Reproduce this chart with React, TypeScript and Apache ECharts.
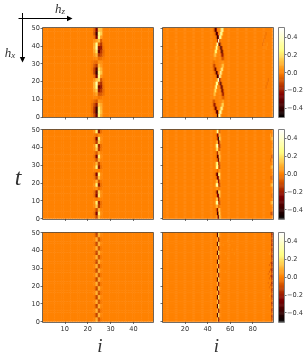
import React, { useEffect, useRef } from "react";
import * as echarts from "echarts";

const LEFT_COLS = 48;
const RIGHT_COLS = 97;
const LEFT_X_TICKS = [10, 20, 30, 40];
const RIGHT_X_TICKS = [20, 40, 60, 80];
const CB_TICKS = [-0.4, -0.2, 0, 0.2, 0.4];
const VALUE_MIN = -0.5;
const VALUE_MAX = 0.5;
const BACKGROUND = 0.004;

// rows are listed from the top of each panel (t = 48) down to t = 0
const TL_FIRST_COL = 22;
const TL_ROWS = [
  [0, -0.06, -0.26, 0.14, 0.12, 0.01],
  [0, -0.08, -0.36, 0.26, 0.16, 0.01],
  [0, -0.03, -0.24, 0.26, 0.06, 0],
  [0, 0.03, 0.06, 0.12, -0.06, 0],
  [0, 0.08, 0.28, -0.06, -0.14, -0.01],
  [0, 0.1, 0.32, -0.22, -0.2, -0.02],
  [0, 0.07, 0.2, -0.3, -0.14, -0.04],
  [0, 0.04, 0.1, -0.14, -0.1, -0.03],
  [0, 0.01, 0.03, -0.04, -0.03, -0.01],
  [-0.01, -0.03, -0.04, 0.04, 0.03, 0],
  [-0.01, -0.07, -0.14, 0.12, 0.05, 0],
  [-0.02, -0.12, -0.32, 0.2, 0.1, 0.01],
  [-0.01, -0.12, -0.38, 0.28, 0.14, 0.01],
  [0, -0.04, -0.24, 0.28, 0.05, 0],
  [0, 0.04, 0.12, 0.18, -0.08, -0.01],
  [0.01, 0.1, 0.32, -0.1, -0.16, -0.02],
  [0.01, 0.1, 0.26, -0.28, -0.2, -0.03],
  [0.01, 0.07, 0.15, -0.2, -0.14, -0.04],
  [0, 0.03, 0.07, -0.08, -0.07, -0.03],
  [0, 0.01, 0.01, -0.02, -0.01, 0],
  [-0.01, -0.04, -0.08, 0.05, 0.03, 0],
  [-0.03, -0.1, -0.2, 0.14, 0.08, 0.01],
  [-0.03, -0.14, -0.36, 0.22, 0.1, 0.01],
  [-0.03, -0.15, -0.38, 0.28, 0.12, 0.01],
  [-0.02, -0.1, -0.28, 0.24, 0.08, 0.01],
];

const TR_FIRST_COL = 45;
const TR_ROWS = [
  [0, -0.06, -0.36, -0.22, 0, 0.01, 0.01, 0.14, 0.36, 0.18, 0],
  [0, 0, -0.07, -0.36, -0.26, 0, 0.07, 0.32, 0.22, 0.03, 0],
  [0, 0, 0, -0.07, -0.4, -0.22, 0.36, 0.22, 0.03, 0, 0],
  [0, 0, 0, 0, -0.16, 0.42, -0.08, 0, 0, 0, 0],
  [0, 0, 0, 0.14, 0.36, -0.08, -0.36, -0.07, 0, 0, 0],
  [0, 0, 0.07, 0.3, 0.14, 0, -0.07, -0.36, -0.14, 0, 0],
  [0, 0.03, 0.22, 0.22, 0.03, 0, 0, -0.14, -0.36, -0.07, 0],
  [0.01, 0.08, 0.14, 0.05, 0.01, 0, 0, -0.03, -0.22, -0.14, -0.01],
  [0.01, 0.04, 0.04, 0.01, 0, 0, 0, 0, -0.07, -0.08, -0.02],
  [-0.01, -0.03, 0, 0, 0, 0, 0, 0, 0.03, 0.04, 0.01],
  [-0.03, -0.14, -0.05, 0, 0, 0, 0, 0.01, 0.1, 0.14, 0.02],
  [-0.01, -0.08, -0.3, -0.1, 0, 0, 0.01, 0.1, 0.3, 0.07, 0],
  [0, -0.01, -0.08, -0.36, -0.18, 0, 0.08, 0.34, 0.08, 0.01, 0],
  [0, 0, 0, -0.07, -0.38, -0.18, 0.36, 0.14, 0, 0, 0],
  [0, 0, 0, 0.03, 0.14, 0.38, -0.22, -0.03, 0, 0, 0],
  [0, 0, 0.03, 0.28, 0.28, -0.03, -0.14, -0.34, -0.03, 0, 0],
  [0, 0.01, 0.16, 0.32, 0.03, 0, -0.02, -0.18, -0.32, -0.03, 0],
  [0, 0.07, 0.22, 0.08, 0.01, 0, 0, -0.03, -0.3, -0.14, -0.01],
  [0.01, 0.12, 0.1, 0.01, 0, 0, 0, 0, -0.1, -0.22, -0.03],
  [0.01, 0.05, 0.02, 0, 0, 0, 0, 0, -0.02, -0.07, -0.03],
  [-0.05, -0.1, -0.01, 0, 0, 0, 0, 0, 0.04, 0.08, 0.01],
  [-0.03, -0.22, -0.14, -0.01, 0, 0, 0, 0.02, 0.14, 0.18, 0.01],
  [0, -0.05, -0.3, -0.18, -0.01, 0, 0.01, 0.18, 0.3, 0.05, 0],
  [0, 0, -0.03, -0.28, -0.34, 0, 0.22, 0.34, 0.05, 0, 0],
  [0, 0, 0, -0.03, -0.38, 0.14, 0.42, 0.07, 0, 0, 0],
];
// [column, row from bottom, value]
const TR_FAINT = [
  [92, 23, -0.03], [91, 22, -0.03], [90, 21, -0.03], [93, 20, 0.03], [92, 19, 0.03], [89, 20, -0.03],
  [94, 10, -0.03], [93, 9, -0.03], [92, 8, -0.03], [12, 20, 0.02], [13, 18, 0.02], [14, 16, 0.02],
];

const ML_FIRST_COL = 23;
const ML_ROWS = [
  [0.03, 0.22, -0.2, -0.03],
  [-0.01, -0.04, 0.03, 0.01],
  [-0.03, -0.25, 0.22, 0.03],
  [-0.02, -0.14, 0.14, 0.02],
  [0.03, 0.22, -0.18, -0.03],
  [0.02, 0.14, -0.14, -0.02],
  [-0.01, -0.07, 0.07, 0.01],
  [-0.03, -0.25, 0.22, 0.03],
  [-0.01, -0.09, 0.09, 0.01],
  [0.01, 0.11, -0.11, -0.01],
  [0.03, 0.23, -0.2, -0.03],
  [0, 0.01, 0, 0],
  [-0.03, -0.25, 0.22, 0.03],
  [-0.02, -0.13, 0.13, 0.02],
  [0.01, 0.09, -0.07, -0.01],
  [0.03, 0.23, -0.2, -0.03],
  [0.01, 0.04, -0.04, -0.01],
  [-0.03, -0.19, 0.16, 0.03],
  [-0.03, -0.24, 0.2, 0.03],
  [0, -0.01, 0.01, 0],
  [0.03, 0.22, -0.18, -0.03],
  [0.02, 0.14, -0.14, -0.02],
  [-0.01, -0.11, 0.09, 0.01],
  [-0.03, -0.25, 0.22, 0.03],
  [-0.01, -0.11, 0.11, 0.01],
];

const MR_FIRST_COL = 47;
const MR_ROWS = [
  [0, 0.08, 0.3, 0.08, -0.08, 0],
  [0, -0.04, -0.24, -0.08, 0.12, 0.01],
  [0, -0.01, -0.16, -0.38, 0.2, 0.04],
  [0, 0.08, 0.08, -0.28, -0.08, 0.04],
  [0.04, 0.24, 0.38, -0.08, -0.16, -0.01],
  [0.01, 0.16, 0.2, -0.04, -0.08, 0],
  [0, -0.04, -0.16, 0.08, 0.08, 0],
  [0, -0.04, -0.34, -0.16, 0.16, 0.02],
  [0, -0.01, -0.08, -0.28, 0.12, 0.01],
  [0.04, 0.2, 0.25, -0.12, -0.08, 0],
  [0.02, 0.24, 0.3, -0.04, -0.12, 0],
  [0, 0, -0.04, 0, 0.04, 0],
  [-0.01, -0.2, -0.34, 0.16, 0.2, 0.01],
  [0, -0.04, -0.28, -0.2, 0.16, 0.01],
  [0.01, 0.1, 0.08, -0.24, -0.04, 0.01],
  [0.04, 0.28, 0.34, -0.08, -0.12, 0],
  [0.01, 0.04, 0.04, -0.01, -0.02, 0],
  [0, -0.12, -0.34, 0.12, 0.16, 0.01],
  [0, -0.01, -0.24, -0.24, 0.16, 0.01],
  [0.01, 0.12, 0.12, -0.2, -0.04, 0],
  [0.04, 0.28, 0.34, -0.08, -0.12, 0],
  [0.01, 0.08, 0.08, -0.04, -0.02, 0],
  [0, -0.08, -0.24, 0.08, 0.12, 0],
  [0, -0.02, -0.38, -0.08, 0.2, 0.01],
  [0.01, 0.06, -0.08, -0.28, 0.16, 0.04],
];
const MR_FAINT = [
  [96, 23, 0.07], [97, 22, 0.09], [96, 22, 0.04], [97, 19, 0.03], [97, 17, -0.07], [96, 16, -0.04],
  [97, 14, 0.09], [96, 14, 0.04], [97, 11, -0.05], [96, 11, -0.03], [97, 9, 0.1], [96, 9, 0.05],
  [97, 6, -0.04], [97, 4, 0.1], [96, 4, 0.05], [97, 1, -0.1], [96, 1, -0.05],
];

const BL_FIRST_COL = 23;
const BL_ROWS = [
  [-0.01, -0.12, 0.1, 0.02], [-0.01, -0.1, 0.09, 0.01], [0.01, 0.09, -0.08, -0.01], [0.01, 0.1, -0.09, -0.01],
  [-0.01, -0.12, 0.1, 0.02], [-0.01, -0.1, 0.1, 0.01], [0.01, 0.09, -0.09, -0.01], [0.01, 0.09, -0.08, -0.01],
  [-0.01, -0.11, 0.1, 0.02], [-0.01, -0.12, 0.09, 0.01], [0.01, 0.09, -0.09, -0.01], [0.01, 0.1, -0.08, -0.01],
  [-0.01, -0.1, 0.1, 0.02], [-0.01, -0.12, 0.1, 0.01], [0.01, 0.09, -0.09, -0.01], [0.01, 0.1, -0.09, -0.01],
  [-0.01, -0.12, 0.09, 0.02], [-0.01, -0.1, 0.1, 0.01], [0.01, 0.09, -0.08, -0.01], [0.01, 0.09, -0.09, -0.01],
  [-0.01, -0.12, 0.1, 0.02], [-0.01, -0.11, 0.09, 0.01], [0.01, 0.1, -0.09, -0.01], [0.01, 0.09, -0.09, -0.01],
  [-0.01, -0.1, 0.1, 0.02], [-0.01, -0.12, 0.1, 0.01], [0.01, 0.09, -0.08, -0.01], [0.01, 0.1, -0.09, -0.01],
  [-0.01, -0.11, 0.1, 0.02], [-0.01, -0.12, 0.1, 0.01], [0.01, 0.09, -0.09, -0.01], [0.01, 0.09, -0.08, -0.01],
  [-0.01, -0.12, 0.09, 0.02], [-0.01, -0.1, 0.1, 0.01], [0.01, 0.1, -0.09, -0.01], [0.01, 0.09, -0.09, -0.01],
  [-0.01, -0.12, 0.1, 0.02], [-0.01, -0.11, 0.1, 0.01], [0.01, 0.09, -0.09, -0.01], [0.01, 0.1, -0.08, -0.01],
];

const BR_FIRST_COL = 48;
const BR_ROWS = [
  [-0.02, -0.34, 0.2, 0.02], [-0.02, -0.32, 0.19, 0.02], [0.01, 0.1, -0.22, -0.01], [0.01, 0.12, -0.24, -0.01],
  [-0.02, -0.34, 0.19, 0.02], [-0.02, -0.33, 0.21, 0.02], [0.01, 0.12, -0.22, -0.01], [0.01, 0.09, -0.2, -0.01],
  [-0.02, -0.32, 0.19, 0.02], [-0.02, -0.35, 0.2, 0.02], [0.01, 0.12, -0.23, -0.01], [0.01, 0.1, -0.22, -0.01],
  [-0.02, -0.34, 0.2, 0.02], [-0.02, -0.33, 0.19, 0.02], [0.01, 0.11, -0.22, -0.01], [0.01, 0.12, -0.24, -0.01],
  [-0.02, -0.33, 0.19, 0.02], [-0.02, -0.35, 0.21, 0.02], [0.01, 0.1, -0.22, -0.01], [0.01, 0.12, -0.23, -0.01],
  [-0.02, -0.34, 0.2, 0.02], [-0.02, -0.32, 0.19, 0.02], [0.01, 0.12, -0.22, -0.01], [0.01, 0.1, -0.21, -0.01],
  [-0.02, -0.33, 0.2, 0.02], [-0.02, -0.35, 0.19, 0.02], [0.01, 0.12, -0.23, -0.01], [0.01, 0.1, -0.22, -0.01],
  [-0.02, -0.34, 0.2, 0.02], [-0.02, -0.33, 0.22, 0.02], [0.01, 0.13, -0.22, -0.01], [0.01, 0.12, -0.2, -0.01],
  [-0.02, -0.34, 0.24, 0.02], [-0.02, -0.33, 0.21, 0.02], [0.01, 0.1, -0.22, -0.01], [0.01, 0.12, -0.24, -0.01],
  [-0.02, -0.35, 0.19, 0.02], [-0.02, -0.33, 0.2, 0.02], [0.01, 0.12, -0.22, -0.01], [0.01, 0.1, -0.22, -0.01],
];
const BR_FAINT = [
  [97, 39, -0.15], [97, 38, -0.12], [97, 37, -0.07], [97, 36, -0.14], [97, 35, -0.1], [97, 34, -0.15], [97, 33, -0.07],
  [97, 32, -0.14], [97, 31, -0.12], [97, 30, -0.08], [97, 29, -0.15], [97, 28, -0.11], [97, 27, -0.08], [97, 26, -0.16],
  [97, 25, -0.14], [97, 24, -0.09], [97, 23, -0.18], [97, 22, -0.14], [97, 21, -0.09], [97, 20, -0.18], [97, 19, -0.14],
  [97, 18, -0.08], [97, 17, -0.16], [97, 16, -0.12], [97, 15, -0.07], [97, 14, -0.15], [97, 13, -0.11], [97, 12, -0.07],
  [97, 11, -0.14], [97, 10, -0.1], [97, 9, -0.05], [97, 8, -0.14], [97, 7, -0.1], [97, 6, -0.05], [97, 5, -0.14],
  [97, 4, -0.1], [97, 3, -0.05], [97, 2, -0.14], [97, 1, -0.11], [97, 0, -0.07],
  [96, 26, -0.05], [95, 25, -0.04], [96, 23, -0.07], [95, 22, -0.05], [94, 21, -0.03], [96, 20, -0.07], [95, 19, -0.04],
  [94, 17, -0.03], [96, 16, -0.05], [95, 15, -0.03], [96, 31, 0.03], [95, 30, 0.03], [96, 12, 0.03], [95, 11, 0.03],
  [58, 36, 0.02], [60, 34, 0.02], [62, 32, 0.02], [64, 30, 0.02], [56, 30, 0.02], [58, 28, 0.02], [60, 26, 0.02],
  [62, 36, 0.015], [66, 32, 0.015], [56, 22, 0.02], [54, 34, 0.02],
];

const PANELS = [
  { cols: LEFT_COLS, rows: TL_ROWS, first: TL_FIRST_COL, faint: [], x: 43, w: 110, y: 28, h: 89, ticks: LEFT_X_TICKS, labelsX: false, labelsY: true },
  { cols: RIGHT_COLS, rows: TR_ROWS, first: TR_FIRST_COL, faint: TR_FAINT, x: 163, w: 109.5, y: 28, h: 89, ticks: RIGHT_X_TICKS, labelsX: false, labelsY: false },
  { cols: LEFT_COLS, rows: ML_ROWS, first: ML_FIRST_COL, faint: [], x: 43, w: 110, y: 129.5, h: 89, ticks: LEFT_X_TICKS, labelsX: false, labelsY: true },
  { cols: RIGHT_COLS, rows: MR_ROWS, first: MR_FIRST_COL, faint: MR_FAINT, x: 163, w: 109.5, y: 129.5, h: 89, ticks: RIGHT_X_TICKS, labelsX: false, labelsY: false },
  { cols: LEFT_COLS, rows: BL_ROWS, first: BL_FIRST_COL, faint: [], x: 43, w: 110, y: 232.5, h: 89, ticks: LEFT_X_TICKS, labelsX: true, labelsY: true },
  { cols: RIGHT_COLS, rows: BR_ROWS, first: BR_FIRST_COL, faint: BR_FAINT, x: 163, w: 109.5, y: 232.5, h: 89, ticks: RIGHT_X_TICKS, labelsX: true, labelsY: false },
];

const COLORBARS = [
  { x: 279, w: 5, y: 28, h: 89 },
  { x: 279, w: 5, y: 129.5, h: 89 },
  { x: 279, w: 5, y: 232.5, h: 89 },
];
const COLORBAR_LEVELS = 100;

const LABEL_COLOR = "#333333";
const LABEL_FONT = "DejaVu Sans";
const LABEL_SIZE = 6.6;
const MATH_FONT = "Liberation Serif";
const MATH_COLOR = "#333333";

function buildCells(p: any) {
  const n = p.rows.length;
  const cells: number[][] = [];
  const lookup = new Map<string, number>();
  p.rows.forEach((row: number[], r: number) => {
    row.forEach((v, k) => lookup.set(`${p.first + k}:${n - 1 - r}`, v));
  });
  p.faint.forEach((e: number[]) => lookup.set(`${e[0]}:${e[1]}`, e[2]));
  for (let r = 0; r < n; r++) {
    for (let c = 1; c <= p.cols; c++) {
      const v = lookup.get(`${c}:${r}`);
      cells.push([c - 1, r, v === undefined || v === 0 ? BACKGROUND : v]);
    }
  }
  return cells;
}

function buildOption() {
  const grid: any[] = [];
  const xAxis: any[] = [];
  const yAxis: any[] = [];
  const series: any[] = [];
  const graphic: any[] = [];
  const frame = (x: number, y: number, w: number, h: number, color: string) => ({
    type: "rect",
    z: 100,
    shape: { x: Math.round(x) - 0.5, y: Math.round(y) - 0.5, width: Math.round(w) + 1, height: Math.round(h) + 1 },
    style: { fill: "none", stroke: color, lineWidth: 1 },
  });

  PANELS.forEach((p) => {
    const g = grid.length;
    grid.push({ left: p.x, top: p.y, width: p.w, height: p.h, containLabel: false });
    const showTick = (_: number, v: string) => p.ticks.includes(Number(v));
    const xi = xAxis.length;
    xAxis.push({
      type: "category",
      gridIndex: g,
      data: Array.from({ length: p.cols }, (_, i) => String(i + 1)),
      axisLine: { show: false },
      splitLine: { show: false },
      axisTick: { show: true, alignWithLabel: true, interval: showTick, length: 2.5, lineStyle: { color: LABEL_COLOR, width: 0.7 } },
      axisLabel: { show: p.labelsX, interval: showTick, fontSize: LABEL_SIZE, color: LABEL_COLOR, fontFamily: LABEL_FONT, margin: 3.5 },
    });
    const yi = yAxis.length;
    yAxis.push({
      type: "category",
      gridIndex: g,
      data: p.rows.map((_: any, i: number) => String(i)),
      axisLine: { show: false },
      axisTick: { show: false },
      axisLabel: { show: false },
      splitLine: { show: false },
    });
    yAxis.push({
      type: "value",
      gridIndex: g,
      min: 0,
      max: 50,
      interval: 10,
      position: "left",
      axisLine: { show: false },
      splitLine: { show: false },
      axisTick: { show: true, length: 2.5, lineStyle: { color: LABEL_COLOR, width: 0.7 } },
      axisLabel: { show: p.labelsY, fontSize: LABEL_SIZE, color: LABEL_COLOR, fontFamily: LABEL_FONT, margin: 3 },
    });
    series.push({
      type: "heatmap",
      xAxisIndex: xi,
      yAxisIndex: yi,
      data: buildCells(p),
      progressive: 0,
      emphasis: { disabled: true },
      silent: true,
    });
    graphic.push(frame(p.x, p.y, p.w, p.h, "rgba(70,60,50,0.75)"));
  });

  COLORBARS.forEach((c) => {
    const g = grid.length;
    grid.push({ left: c.x, top: c.y, width: c.w, height: c.h });
    const xi = xAxis.length;
    xAxis.push({ type: "category", gridIndex: g, data: ["cb"], show: false });
    const yi = yAxis.length;
    yAxis.push({
      type: "category",
      gridIndex: g,
      data: Array.from({ length: COLORBAR_LEVELS }, (_, i) => String(i)),
      show: false,
    });
    yAxis.push({
      type: "value",
      gridIndex: g,
      min: VALUE_MIN,
      max: VALUE_MAX,
      position: "right",
      axisLine: { show: false },
      splitLine: { show: false },
      axisTick: { show: true, length: 2.5, customValues: CB_TICKS, lineStyle: { color: LABEL_COLOR, width: 0.7 } },
      axisLabel: {
        show: true,
        customValues: CB_TICKS,
        fontSize: LABEL_SIZE,
        color: LABEL_COLOR,
        fontFamily: LABEL_FONT,
        margin: 3,
        formatter: (v: number) => v.toFixed(1).replace("-", "\u2212"),
      },
    });
    series.push({
      type: "heatmap",
      xAxisIndex: xi,
      yAxisIndex: yi,
      data: Array.from({ length: COLORBAR_LEVELS }, (_, i) => [0, i, VALUE_MIN + ((i + 0.5) * (VALUE_MAX - VALUE_MIN)) / COLORBAR_LEVELS]),
      progressive: 0,
      emphasis: { disabled: true },
      silent: true,
    });
    graphic.push(frame(c.x, c.y, c.w, c.h, "#808080"));
  });

  const mathText = (x: number, y: number, text: string, size: number) => ({
    type: "text",
    x,
    y,
    z: 100,
    style: { text, fontFamily: MATH_FONT, fontStyle: "italic", fontSize: size, fill: MATH_COLOR, align: "center", verticalAlign: "middle" },
  });
  const subText = (x: number, y: number, base: string, sub: string) => ({
    type: "text",
    x,
    y,
    z: 100,
    style: {
      text: `{a|${base}}{b|${sub}}`,
      align: "center",
      verticalAlign: "middle",
      fill: MATH_COLOR,
      rich: {
        a: { fontFamily: MATH_FONT, fontStyle: "italic", fontSize: 13, fill: MATH_COLOR },
        b: { fontFamily: MATH_FONT, fontStyle: "italic", fontSize: 9, fill: MATH_COLOR, verticalAlign: "bottom", padding: [5, 0, 0, 0] },
      },
    },
  });
  graphic.push(
    { type: "line", z: 100, shape: { x1: 18.5, y1: 18.5, x2: 69, y2: 18.5 }, style: { stroke: "#000", lineWidth: 1 } },
    { type: "polygon", z: 100, shape: { points: [[67, 15.8], [72.5, 18.5], [67, 21.2]] }, style: { fill: "#000" } },
    { type: "line", z: 100, shape: { x1: 22.5, y1: 13, x2: 22.5, y2: 59 }, style: { stroke: "#000", lineWidth: 1 } },
    { type: "polygon", z: 100, shape: { points: [[19.8, 57], [22.5, 62.5], [25.2, 57]] }, style: { fill: "#000" } },
    subText(60, 8, "h", "z"),
    subText(10, 52, "h", "x"),
    mathText(18, 177, "t", 24),
    mathText(100, 345, "i", 19),
    mathText(216.5, 345, "i", 19)
  );

  return {
    animation: false,
    backgroundColor: "#ffffff",
    grid,
    xAxis,
    yAxis,
    visualMap: {
      show: false,
      type: "continuous",
      min: VALUE_MIN,
      max: VALUE_MAX,
      calculable: false,
      seriesIndex: series.map((_, i) => i),
      inRange: { color: ["#000000", "#800000", "#ff8000", "#ffff80", "#ffffff"] },
    },
    series,
    graphic: { elements: graphic },
  };
}

export default function App() {
  const ref = useRef<HTMLDivElement>(null);
  useEffect(() => {
    const chart = echarts.init(ref.current!, undefined, { renderer: "svg" });
    chart.setOption(buildOption() as any);
    return () => chart.dispose();
  }, []);
  return (
    <div
      ref={ref}
      style={{ position: "fixed", left: 0, top: 0, width: 306, height: 355, filter: "blur(0.5px)" }}
    />
  );
}
